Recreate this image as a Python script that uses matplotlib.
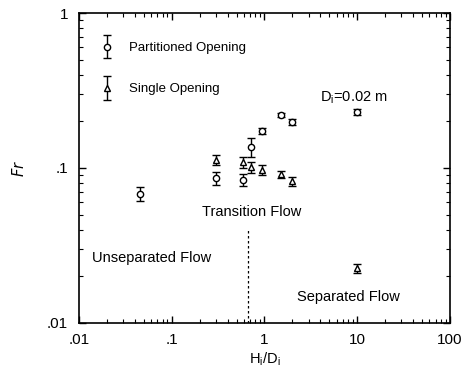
import numpy as np
import matplotlib
matplotlib.use("Agg")
import matplotlib.pyplot as plt
from matplotlib.container import ErrorbarContainer
from matplotlib.legend_handler import HandlerErrorbar
from matplotlib.ticker import LogLocator, NullFormatter, FixedLocator, FixedFormatter

plt.rcParams['font.family'] = ['Liberation Sans', 'DejaVu Sans']

# partitioned opening (circles)
part_x = [0.046, 0.30, 0.59, 0.72, 0.95, 1.5, 2.0, 10.0]
part_y = [0.068, 0.086, 0.084, 0.137, 0.173, 0.22, 0.198, 0.23]
part_err = [0.007, 0.008, 0.008, 0.020, 0.008, 0.008, 0.008, 0.009]

# single opening (triangles)
single_x = [0.30, 0.59, 0.72, 0.95, 1.5, 2.0, 10.0]
single_y = [0.113, 0.109, 0.101, 0.097, 0.091, 0.082, 0.0226]
single_err = [0.009, 0.009, 0.008, 0.007, 0.005, 0.005, 0.0015]

# transition boundary
bound_x = 0.665
bound_top = 0.041

xticks = [0.01, 0.1, 1, 10, 100]
xtick_labels = ['.01', '.1', '1', '10', '100']
yticks = [0.01, 0.1, 1]
ytick_labels = ['.01', '.1', '1']

fig = plt.figure(figsize=(4.66, 3.72), dpi=100)
ax = fig.add_axes([0.1695, 0.132, 0.796, 0.833])
ax.set_xscale('log')
ax.set_yscale('log')
ax.set_xlim(0.01, 100)
ax.set_ylim(0.01, 1)

h1 = ax.errorbar(part_x, part_y, yerr=part_err, fmt='o', ms=4.5, mfc='white', mec='black',
                 mew=1.0, ecolor='black', elinewidth=1.0, capsize=3, capthick=1.2,
                 label='Partitioned Opening')
h2 = ax.errorbar(single_x, single_y, yerr=single_err, fmt='^', ms=4.5, mfc='white', mec='black',
                 mew=1.0, ecolor='black', elinewidth=1.0, capsize=3, capthick=1.2,
                 label='Single Opening')

ax.plot([bound_x, bound_x], [0.01, bound_top], color='black', ls=(0, (2, 2)), lw=0.9)

ax.text(3.96, 0.283, 'D$_\\mathregular{i}$=0.02 m', fontsize=10.5, ha='left', va='center')
ax.text(0.724, 0.052, 'Transition Flow', fontsize=10.5, ha='center', va='center')
ax.text(0.0138, 0.0263, 'Unseparated Flow', fontsize=10.5, ha='left', va='center')
ax.text(2.24, 0.0147, 'Separated Flow', fontsize=10.5, ha='left', va='center')

leg = ax.legend(handles=[h1, h2], loc='upper left', bbox_to_anchor=(0.02, 0.945),
                frameon=False, fontsize=9.5, labelspacing=2.2, handlelength=1.3,
                handletextpad=1.0,
                handler_map={ErrorbarContainer: HandlerErrorbar(yerr_size=0.9)})

ax.xaxis.set_major_locator(FixedLocator(xticks))
ax.xaxis.set_major_formatter(FixedFormatter(xtick_labels))
ax.yaxis.set_major_locator(FixedLocator(yticks))
ax.yaxis.set_major_formatter(FixedFormatter(ytick_labels))
ax.xaxis.set_minor_locator(LogLocator(base=10, subs=np.arange(2, 10)))
ax.yaxis.set_minor_locator(LogLocator(base=10, subs=np.arange(2, 10)))
ax.xaxis.set_minor_formatter(NullFormatter())
ax.yaxis.set_minor_formatter(NullFormatter())
ax.tick_params(which='both', direction='in', top=True, right=True, labelsize=11)
ax.tick_params(axis='x', which='major', pad=7)
ax.tick_params(axis='y', which='major', pad=8)
ax.tick_params(which='major', length=5, width=1)
ax.tick_params(which='minor', length=3, width=0.8)
for s in ax.spines.values():
    s.set_linewidth(1.2)

ax.set_xlabel('H$_\\mathregular{i}$/D$_\\mathregular{i}$', fontsize=10.5, labelpad=3)
ax.set_ylabel('$Fr$', fontsize=10.5, labelpad=14)

fig.savefig('out.png', dpi=100)
